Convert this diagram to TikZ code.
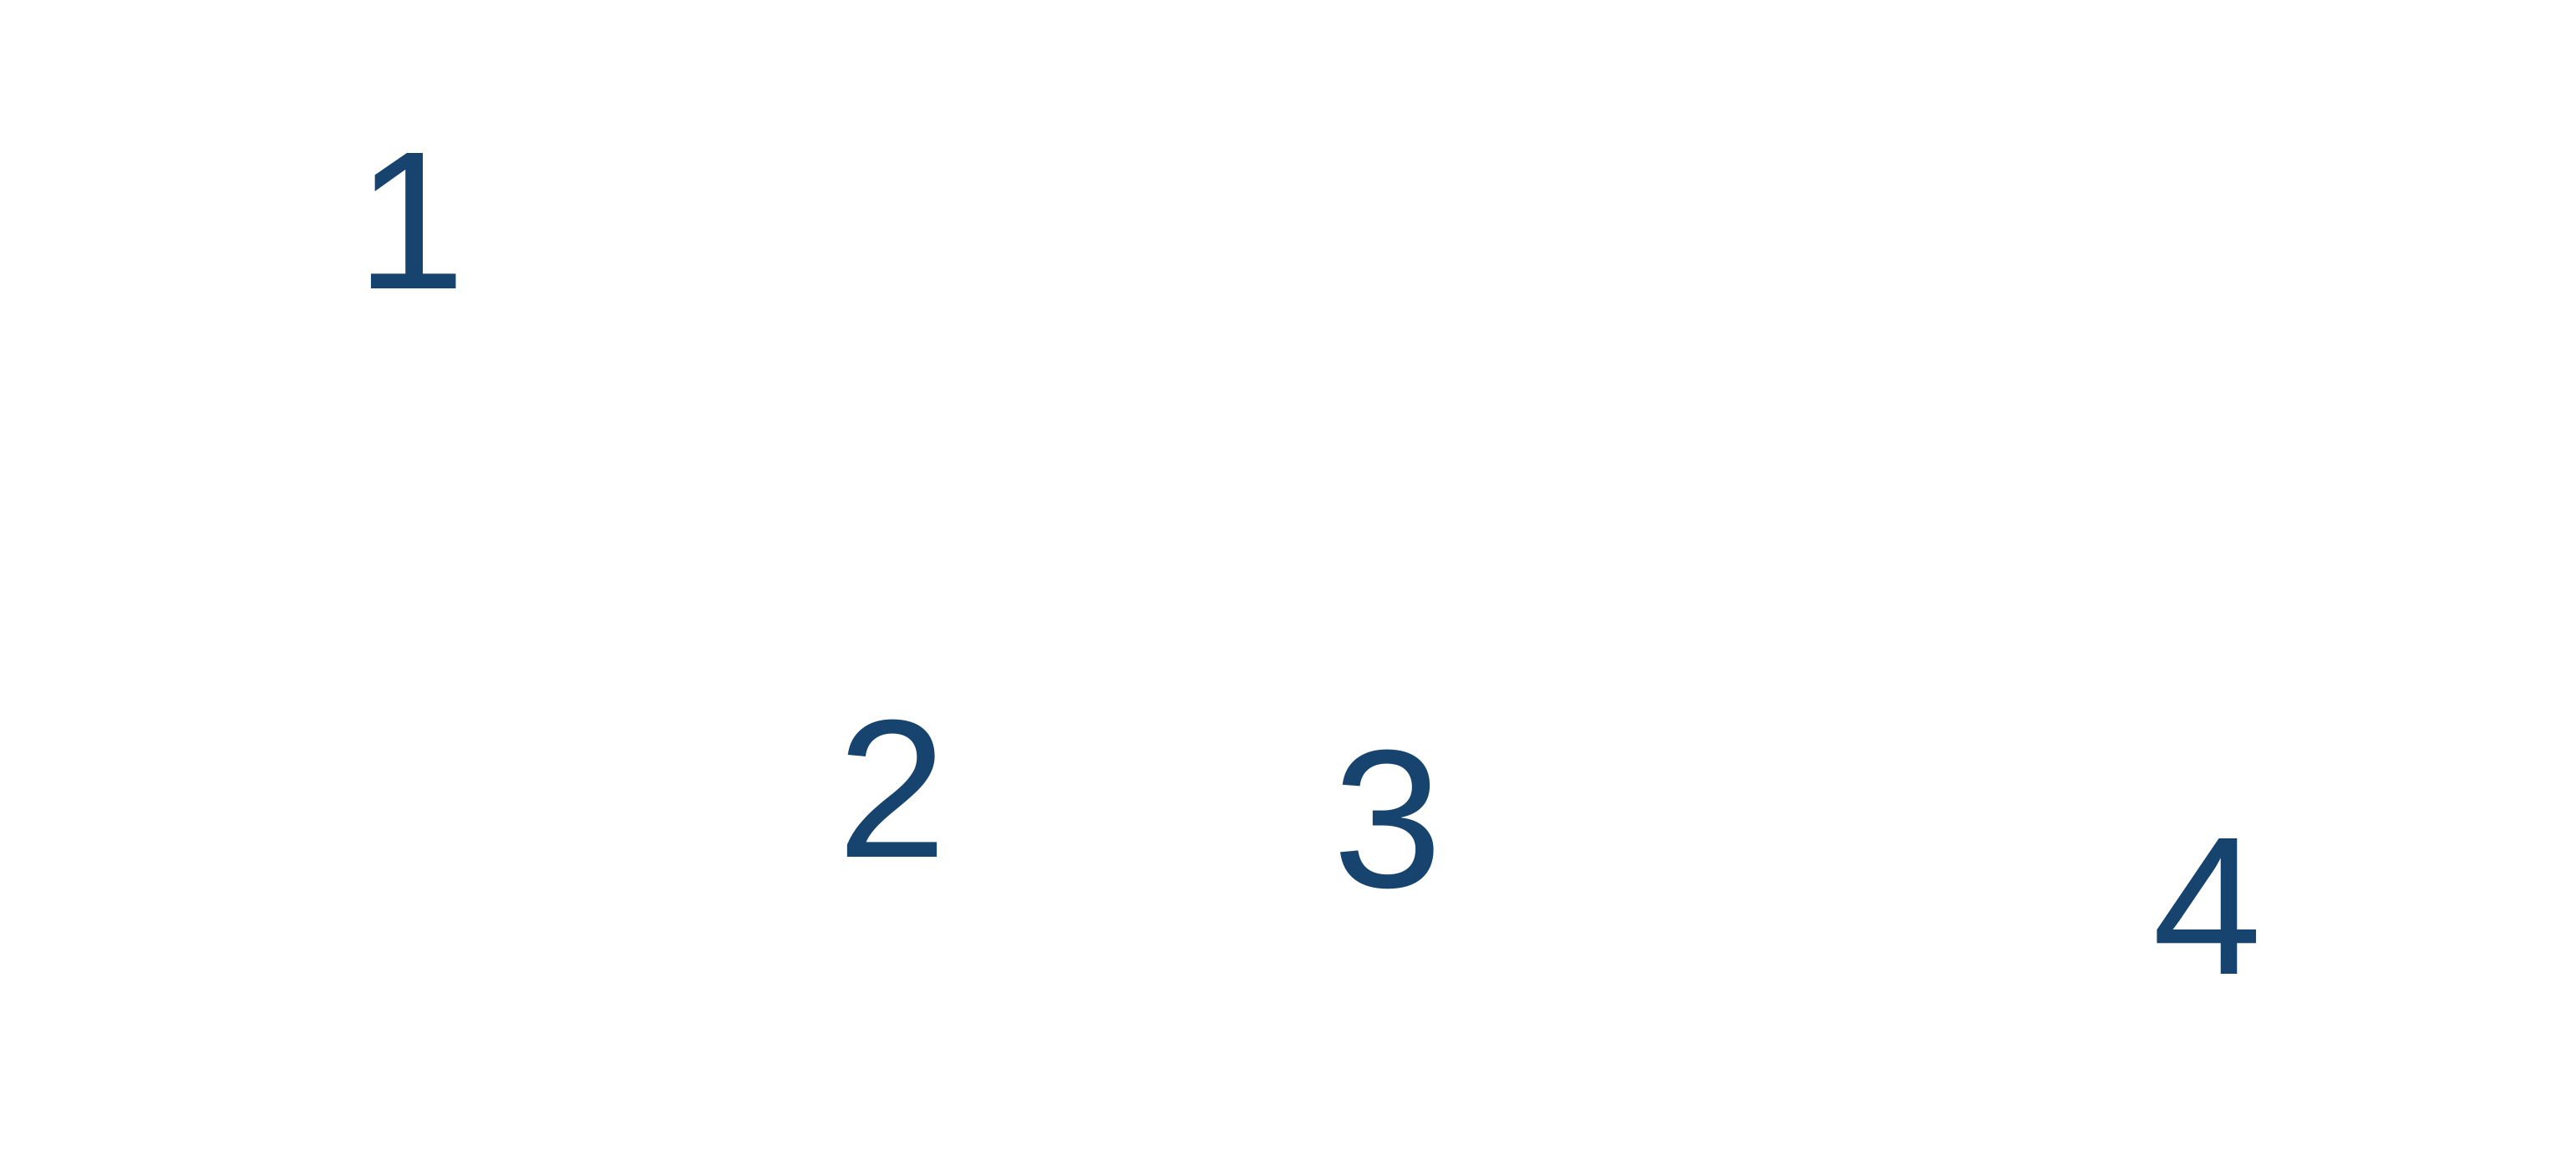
\documentclass[tikz,border=0pt]{standalone}
\usepackage{fontspec}
\setmainfont{Liberation Sans}
\usepackage{tikz}
\definecolor{numblue}{HTML}{17446E}

\begin{document}
\begin{tikzpicture}[num/.style={inner sep=0pt,anchor=base,text=numblue,font=\fontsize{67}{80}\selectfont}]
   \useasboundingbox (0,0) rectangle (30.83,13.89);
   \node[num] (1) at (4.92,10.43) {1};
   \node[num] (2) at (10.68,3.63) {2};
   \node[num] (3) at (16.61,3.27) {3};
   \node[num] (4) at (26.42,2.23) {4};
\end{tikzpicture}
\end{document}
